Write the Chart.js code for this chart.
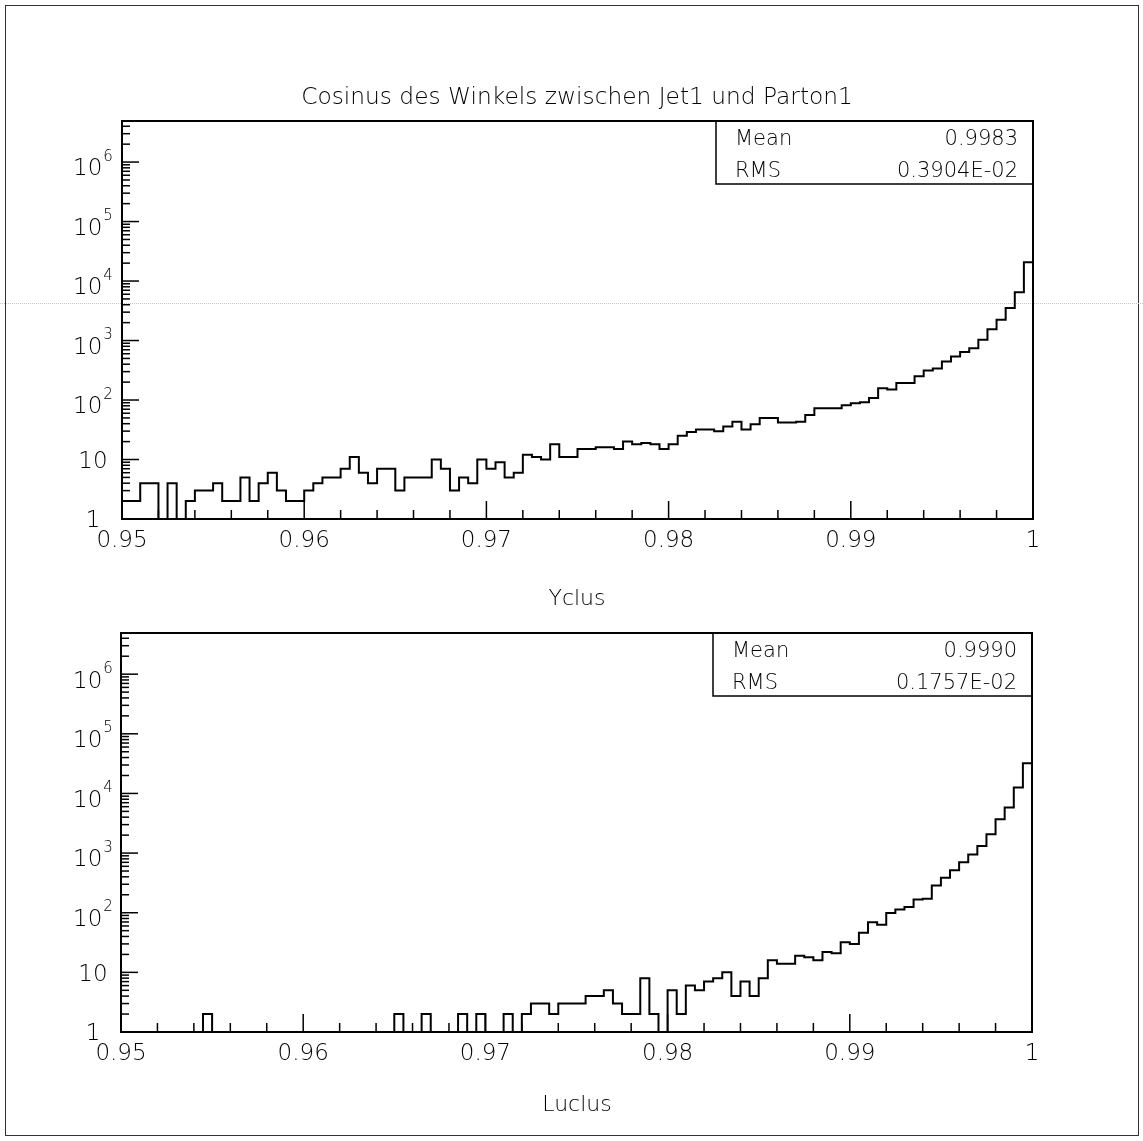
<!DOCTYPE html>
<html>
<head>
<meta charset="utf-8">
<script src="https://cdn.jsdelivr.net/npm/chart.js@4.4.1/dist/chart.umd.min.js"></script>
<style>
  body { margin: 0; background: #fff; }
  #page { position: relative; width: 1143px; height: 1141px; overflow: hidden; background: #fff; }
  canvas { position: absolute; left: 0; }
  #border { position: absolute; left: 5px; top: 5px; width: 1134px; height: 1131px; border: 1.5px solid #333; box-sizing: border-box; }
  #scanline { position: absolute; left: 0; top: 303px; width: 1143px; height: 0; border-top: 1px dotted #c4c4c4; }
</style>
</head>
<body>
<div id="page">
  <div id="border"></div>
  <div id="scanline"></div>
  <canvas id="chartTop" width="1143" height="620" style="top:0"></canvas>
  <canvas id="chartBottom" width="1143" height="521" style="top:620px"></canvas>
</div>
<script>
// asse x: 100 bin da 0.95 a 1
const xMin = 0.95;
const xMax = 1.0;
const binCount = 100;
const xTickValues = [0.95, 0.96, 0.97, 0.98, 0.99, 1];
const xTickLabels = ['0.95', '0.96', '0.97', '0.98', '0.99', '1'];

// asse y logaritmico
const yMin = 1;
const yMax = 4.9e6;
const yTickValues = [1, 10, 100, 1e3, 1e4, 1e5, 1e6];
const yTickBase = ['1', '10', '10', '10', '10', '10', '10'];
const yTickExp = ['', '', '2', '3', '4', '5', '6'];

// conteggi per bin
const yclusCounts = [
  2, 2, 4, 4, 0, 4, 0, 2, 3, 3,
  4, 2, 2, 5, 2, 4, 6, 3, 2, 2,
  3, 4, 5, 5, 7, 11, 6, 4, 7, 7,
  3, 5, 5, 5, 10, 7, 3, 5, 4, 10,
  7, 9, 5, 6, 12, 11, 10, 18, 11, 11,
  15, 15, 16, 16, 15, 20, 18, 19, 18, 15,
  18, 25, 29, 32, 32, 30, 36, 43, 32, 39,
  50, 50, 42, 42, 43, 56, 73, 73, 73, 82,
  88, 92, 108, 158, 150, 193, 193, 250, 315, 340,
  444, 540, 640, 745, 1030, 1550, 2240, 3530, 6450, 20600
];

const luclusCounts = [
  0, 0, 0, 0, 0, 0, 0, 0, 0, 2,
  0, 0, 0, 0, 0, 0, 0, 0, 0, 0,
  0, 0, 0, 0, 0, 0, 0, 0, 0, 0,
  2, 0, 0, 2, 0, 0, 0, 2, 0, 2,
  0, 0, 2, 0, 2, 3, 3, 2, 3, 3,
  3, 4, 4, 5, 3, 2, 2, 8, 2, 0,
  5, 2, 6, 5, 7, 8, 10, 4, 7, 4,
  8, 16, 14, 14, 19, 18, 16, 22, 21, 32,
  30, 46, 69, 63, 99, 113, 125, 166, 171, 286,
  385, 517, 705, 949, 1310, 2060, 3680, 5790, 12600, 32200
];

const statsLabels = ['Mean', 'RMS'];
const yclusStats = ['0.9983', '0.3904E-02'];
const luclusStats = ['0.9990', '0.1757E-02'];

const titleText = 'Cosinus des Winkels zwischen Jet1 und Parton1';
const FONT = '"DejaVu Sans", "Liberation Sans", sans-serif';
const INK = '#000';

// punti del contorno a gradini (bordo sinistro di ogni bin)
function stepPoints(counts) {
    const w = (xMax - xMin) / binCount;
    const pts = counts.map((c, i) => ({ x: xMin + i * w, y: Math.max(c, yMin) }));
    pts.push({ x: xMax, y: yMin });
    return pts;
}

// cornice, tacche interne, etichette, box statistiche
const histDecor = {
    id: 'histDecor',
    afterDraw(chart, args, opts) {
        const ctx = chart.ctx;
        const a = chart.chartArea;
        const x = chart.scales.x;
        const y = chart.scales.y;
        ctx.save();
        ctx.strokeStyle = INK;
        ctx.fillStyle = INK;

        // tacche x (verso l'interno)
        ctx.lineWidth = 1.5;
        for (let i = 0; i <= 25; i++) {
            const px = x.getPixelForValue(xMin + i * 0.002);
            const len = (i % 5 === 0) ? 18 : 9;
            ctx.beginPath();
            ctx.moveTo(px, a.bottom);
            ctx.lineTo(px, a.bottom - len);
            ctx.stroke();
        }
        // tacche y logaritmiche
        for (let d = 0; d <= 6; d++) {
            for (let m = 1; m <= 9; m++) {
                const v = m * Math.pow(10, d);
                if (v > yMax) break;
                const py = y.getPixelForValue(v);
                const len = (m === 1) ? 17 : 8;
                ctx.beginPath();
                ctx.moveTo(a.left, py);
                ctx.lineTo(a.left + len, py);
                ctx.stroke();
            }
        }

        // cornice
        ctx.lineWidth = 2;
        ctx.strokeRect(a.left, a.top, a.right - a.left, a.bottom - a.top);

        // etichette x
        ctx.font = '200 23px ' + FONT;
        ctx.textAlign = 'center';
        ctx.textBaseline = 'alphabetic';
        xTickValues.forEach((v, i) => {
            ctx.fillText(xTickLabels[i], x.getPixelForValue(v), a.bottom + 28);
        });

        // etichette y (centrate, con esponente)
        const cx = 93;
        yTickValues.forEach((v, i) => {
            const py = y.getPixelForValue(v);
            if (!yTickExp[i]) {
                ctx.font = '200 23px ' + FONT;
                ctx.textAlign = 'center';
                ctx.fillText(yTickBase[i], cx, py + 8.4);
                return;
            }
            ctx.font = '200 23px ' + FONT;
            const wb = ctx.measureText(yTickBase[i]).width;
            ctx.font = '200 15px ' + FONT;
            const we = ctx.measureText(yTickExp[i]).width;
            const x0 = cx - (wb + 1 + we) / 2;
            ctx.textAlign = 'left';
            ctx.font = '200 23px ' + FONT;
            ctx.fillText(yTickBase[i], x0, py + 13.4);
            ctx.font = '200 15px ' + FONT;
            ctx.fillText(yTickExp[i], x0 + wb + 1, py - 1.5);
        });

        // titolo e titolo asse x
        ctx.textAlign = 'center';
        if (opts.title) {
            ctx.font = '200 23.3px ' + FONT;
            ctx.fillText(opts.title, 577, a.top - 17);
        }
        ctx.font = '200 22px ' + FONT;
        ctx.fillText(opts.xTitle, 577, a.bottom + opts.xTitleOffset);

        // box statistiche
        const bl = a.right - opts.boxWidth;
        const bt = a.top;
        ctx.lineWidth = 1.5;
        ctx.strokeRect(bl, bt, a.right - bl, 63);
        ctx.font = '200 21px ' + FONT;
        statsLabels.forEach((lab, i) => {
            const by = bt + 24 + i * 32;
            ctx.textAlign = 'left';
            ctx.fillText(lab, bl + 19, by);
            ctx.textAlign = 'right';
            ctx.fillText(opts.stats[i], a.right - 15, by);
        });
        ctx.restore();
    }
};

function makeHisto(canvasId, counts, cfg) {
    const ctx = document.getElementById(canvasId).getContext('2d');
    return new Chart(ctx, {
        type: 'line',
        data: {
            datasets: [{
                data: stepPoints(counts),
                stepped: true,
                borderColor: INK,
                borderWidth: 2,
                pointRadius: 0,
                fill: false
            }]
        },
        options: {
            responsive: false,
            animation: false,
            events: [],
            layout: { padding: { top: cfg.padTop, right: cfg.padRight, left: 0, bottom: 0 } },
            scales: {
                x: {
                    type: 'linear', min: xMin, max: xMax,
                    grid: { display: false, drawTicks: false },
                    border: { display: false },
                    ticks: { display: false },
                    afterFit: s => { s.height = cfg.xHeight; }
                },
                y: {
                    type: 'logarithmic', min: yMin, max: yMax,
                    grid: { display: false, drawTicks: false },
                    border: { display: false },
                    ticks: { display: false },
                    afterFit: s => { s.width = cfg.yWidth; }
                }
            },
            plugins: {
                legend: { display: false },
                tooltip: { enabled: false },
                histDecor: {
                    title: cfg.title,
                    xTitle: cfg.xTitle,
                    xTitleOffset: cfg.xTitleOffset,
                    stats: cfg.stats,
                    boxWidth: cfg.boxWidth
                }
            }
        },
        plugins: [histDecor]
    });
}

makeHisto('chartTop', yclusCounts, {
    padTop: 121, padRight: 110, xHeight: 101, yWidth: 122,
    title: titleText, xTitle: 'Yclus', xTitleOffset: 86,
    stats: yclusStats, boxWidth: 317
});

makeHisto('chartBottom', luclusCounts, {
    padTop: 13, padRight: 111, xHeight: 109, yWidth: 121,
    title: '', xTitle: 'Luclus', xTitleOffset: 79,
    stats: luclusStats, boxWidth: 319
});
</script>
</body>
</html>
